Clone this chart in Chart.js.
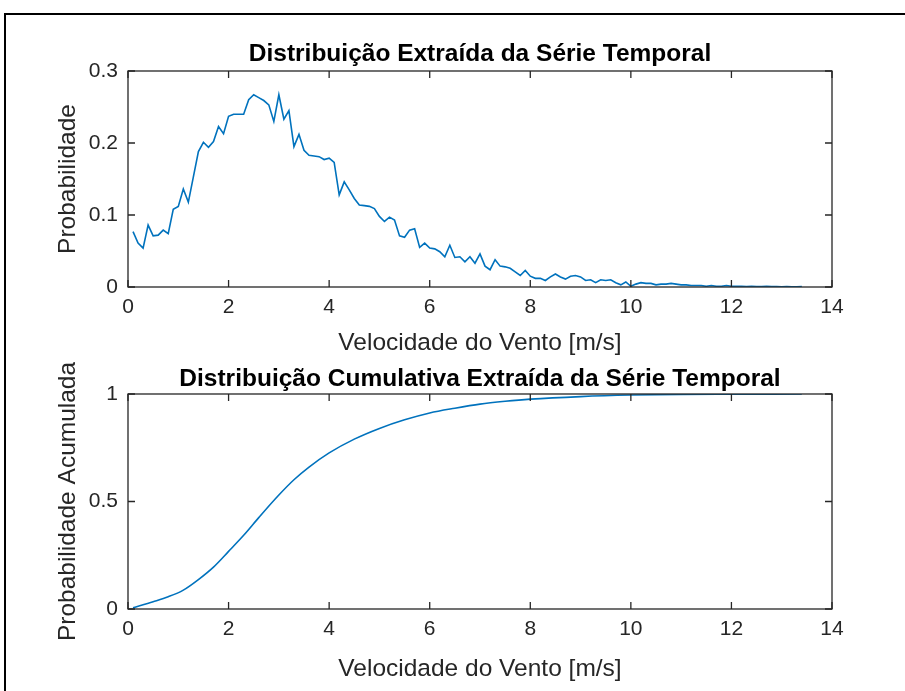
<!DOCTYPE html>
<html>
<head>
<meta charset="utf-8">
<title>Distribuição da Velocidade do Vento</title>
<script src="https://cdn.jsdelivr.net/npm/chart.js@4.4.1/dist/chart.umd.min.js"></script>
<style>
  html, body { margin: 0; padding: 0; background: #ffffff; }
  body { width: 905px; height: 691px; position: relative; overflow: hidden; }
  #frame {
    position: absolute; left: 4px; top: 13px; width: 920px; height: 700px;
    border-top: 2px solid #000; border-left: 2px solid #000;
  }
  canvas { position: absolute; left: 0; }
  #pdfChart { top: 0; }
  #cdfChart { top: 360px; }
</style>
</head>
<body>
<div id="frame"></div>
<canvas id="pdfChart" width="960" height="360"></canvas>
<canvas id="cdfChart" width="960" height="331"></canvas>
<script>
// Wind speed bin centres [m/s]
const speedBins = [
  0.1, 0.2, 0.3, 0.4, 0.5, 0.6, 0.7, 0.8, 0.9, 1.0,
  1.1, 1.2, 1.3, 1.4, 1.5, 1.6, 1.7, 1.8, 1.9, 2.0,
  2.1, 2.2, 2.3, 2.4, 2.5, 2.6, 2.7, 2.8, 2.9, 3.0,
  3.1, 3.2, 3.3, 3.4, 3.5, 3.6, 3.7, 3.8, 3.9, 4.0,
  4.1, 4.2, 4.3, 4.4, 4.5, 4.6, 4.7, 4.8, 4.9, 5.0,
  5.1, 5.2, 5.3, 5.4, 5.5, 5.6, 5.7, 5.8, 5.9, 6.0,
  6.1, 6.2, 6.3, 6.4, 6.5, 6.6, 6.7, 6.8, 6.9, 7.0,
  7.1, 7.2, 7.3, 7.4, 7.5, 7.6, 7.7, 7.8, 7.9, 8.0,
  8.1, 8.2, 8.3, 8.4, 8.5, 8.6, 8.7, 8.8, 8.9, 9.0,
  9.1, 9.2, 9.3, 9.4, 9.5, 9.6, 9.7, 9.8, 9.9, 10.0,
  10.1, 10.2, 10.3, 10.4, 10.5, 10.6, 10.7, 10.8, 10.9, 11.0,
  11.1, 11.2, 11.3, 11.4, 11.5, 11.6, 11.7, 11.8, 11.9, 12.0,
  12.1, 12.2, 12.3, 12.4, 12.5, 12.6, 12.7, 12.8, 12.9, 13.0,
  13.1, 13.2, 13.3, 13.4
];

// Probability per bin, taken from the measured time series
const binProbability = [
  0.077, 0.061, 0.054, 0.086, 0.071, 0.072, 0.079, 0.074, 0.108, 0.112,
  0.136, 0.118, 0.153, 0.188, 0.201, 0.194, 0.202, 0.223, 0.213, 0.237,
  0.240, 0.240, 0.240, 0.260, 0.267, 0.263, 0.259, 0.253, 0.230, 0.267,
  0.233, 0.245, 0.195, 0.212, 0.190, 0.183, 0.182, 0.181, 0.177, 0.179,
  0.173, 0.128, 0.146, 0.135, 0.123, 0.114, 0.113, 0.112, 0.109, 0.098,
  0.091, 0.097, 0.093, 0.071, 0.069, 0.079, 0.081, 0.055, 0.061, 0.054,
  0.053, 0.049, 0.042, 0.058, 0.041, 0.042, 0.035, 0.042, 0.033, 0.046,
  0.029, 0.024, 0.038, 0.029, 0.028, 0.026, 0.021, 0.016, 0.023, 0.015,
  0.012, 0.012, 0.009, 0.014, 0.018, 0.014, 0.011, 0.015, 0.016, 0.014,
  0.009, 0.010, 0.006, 0.010, 0.009, 0.010, 0.006, 0.003, 0.007, 0.001,
  0.004, 0.006, 0.005, 0.005, 0.003, 0.004, 0.004, 0.005, 0.004, 0.003,
  0.003, 0.002, 0.002, 0.002, 0.001, 0.002, 0.001, 0.001, 0.002, 0.001,
  0.001, 0.001, 0.0005, 0.001, 0.0005, 0.0005, 0.001, 0.0005, 0.0005, 0.0003,
  0.0005, 0.0003, 0.0003, 0.0005
];

// Cumulative distribution sampled along the speed axis
const cdfSpeed = [
  0.1, 0.5, 0.8, 1.1, 1.4, 1.7, 2.0, 2.3, 2.6, 3.0,
  3.3, 3.6, 4.0, 4.5, 5.0, 5.5, 6.0, 6.5, 7.0, 7.5,
  8.0, 9.0, 10.0, 11.0, 12.0, 13.4
];
const cdfValues = [
  0.006, 0.034, 0.057, 0.088, 0.137, 0.195, 0.268, 0.343, 0.425, 0.530,
  0.601, 0.660, 0.726, 0.790, 0.840, 0.880, 0.912, 0.934, 0.953, 0.966,
  0.976, 0.988, 0.995, 0.998, 0.999, 1.0
];

// Axis ticks
const speedTicks = [0, 2, 4, 6, 8, 10, 12, 14];
const speedTickLabels = ['0', '2', '4', '6', '8', '10', '12', '14'];
const pdfTicks = [0, 0.1, 0.2, 0.3];
const pdfTickLabels = ['0', '0.1', '0.2', '0.3'];
const cdfTicks = [0, 0.5, 1];
const cdfTickLabels = ['0', '0.5', '1'];

const LINE_COLOR = '#0072BD';
const AXIS_COLOR = '#262626';
const FONT = '"Liberation Sans", Arial, Helvetica, sans-serif';
const TICK_LEN = 7;
const CANVAS_W = 960;
const PLOT_LEFT = 128;
const PLOT_RIGHT = 832;

// Boxed axes with inward tick marks on all four sides
const boxedAxes = {
  id: 'boxedAxes',
  afterDatasetsDraw(chart) {
    const { ctx, chartArea: a, scales: { x, y } } = chart;
    ctx.save();
    ctx.strokeStyle = AXIS_COLOR;
    ctx.lineWidth = 1.3;
    ctx.beginPath();
    x.ticks.forEach(t => {
      const px = x.getPixelForValue(t.value);
      ctx.moveTo(px, a.bottom); ctx.lineTo(px, a.bottom - TICK_LEN);
      ctx.moveTo(px, a.top); ctx.lineTo(px, a.top + TICK_LEN);
    });
    y.ticks.forEach(t => {
      const py = y.getPixelForValue(t.value);
      ctx.moveTo(a.left, py); ctx.lineTo(a.left + TICK_LEN, py);
      ctx.moveTo(a.right, py); ctx.lineTo(a.right - TICK_LEN, py);
    });
    ctx.stroke();
    ctx.strokeRect(a.left, a.top, a.right - a.left, a.bottom - a.top);
    ctx.restore();
  }
};

function makeChart(canvasId, cfg) {
  return new Chart(document.getElementById(canvasId), {
    type: 'line',
    data: {
      datasets: [{
        data: cfg.xs.map((v, i) => ({ x: v, y: cfg.ys[i] })),
        borderColor: LINE_COLOR,
        borderWidth: 1.6,
        pointRadius: 0,
        fill: false,
        tension: 0,
        cubicInterpolationMode: cfg.smooth ? 'monotone' : 'default'
      }]
    },
    options: {
      responsive: false,
      animation: false,
      devicePixelRatio: 1,
      layout: { padding: 0 },
      plugins: {
        legend: { display: false },
        tooltip: { enabled: false },
        title: {
          display: true,
          text: cfg.title,
          color: '#000000',
          font: { family: FONT, size: 24.5, weight: 'bold' },
          padding: cfg.titlePadding
        }
      },
      scales: {
        x: {
          type: 'linear',
          min: 0, max: 14,
          grid: { display: false, drawTicks: false },
          border: { display: false },
          afterBuildTicks: s => { s.ticks = speedTicks.map(v => ({ value: v })); },
          afterFit: s => { s.height = cfg.xHeight; },
          ticks: {
            color: AXIS_COLOR,
            font: { family: FONT, size: 21 },
            padding: 8,
            maxRotation: 0,
            autoSkip: false,
            callback: (v, i) => speedTickLabels[i]
          },
          title: {
            display: true,
            text: 'Velocidade do Vento [m/s]',
            color: AXIS_COLOR,
            font: { family: FONT, size: 24.5 },
            padding: { top: 0, bottom: cfg.xTitlePad }
          }
        },
        y: {
          type: 'linear',
          position: 'left',
          min: cfg.yTicks[0], max: cfg.yTicks[cfg.yTicks.length - 1],
          grid: { display: false, drawTicks: false },
          border: { display: false },
          afterBuildTicks: s => { s.ticks = cfg.yTicks.map(v => ({ value: v })); },
          afterFit: s => { s.width = PLOT_LEFT; },
          ticks: {
            color: AXIS_COLOR,
            font: { family: FONT, size: 21 },
            padding: 10,
            autoSkip: false,
            callback: (v, i) => cfg.yTickLabels[i]
          },
          title: {
            display: true,
            text: cfg.yTitle,
            color: AXIS_COLOR,
            font: { family: FONT, size: 24.5 },
            padding: { top: 54, bottom: 0 }
          }
        },
        // empty right-hand margin so the title centres over the plot box
        yMargin: {
          type: 'linear',
          position: 'right',
          grid: { display: false, drawTicks: false },
          border: { display: false },
          ticks: { display: false },
          afterFit: s => { s.width = CANVAS_W - PLOT_RIGHT; }
        }
      }
    },
    plugins: [boxedAxes]
  });
}

makeChart('pdfChart', {
  xs: speedBins,
  ys: binProbability,
  smooth: false,
  title: 'Distribuição Extraída da Série Temporal',
  titlePadding: { top: 39.3, bottom: 2.3 },
  xHeight: 73,
  xTitlePad: 2,
  yTicks: pdfTicks,
  yTickLabels: pdfTickLabels,
  yTitle: 'Probabilidade'
});

makeChart('cdfChart', {
  xs: cdfSpeed,
  ys: cdfValues,
  smooth: true,
  title: 'Distribuição Cumulativa Extraída da Série Temporal',
  titlePadding: { top: 4.3, bottom: 0.3 },
  xHeight: 82,
  xTitlePad: 7,
  yTicks: cdfTicks,
  yTickLabels: cdfTickLabels,
  yTitle: 'Probabilidade Acumulada'
});
</script>
</body>
</html>
